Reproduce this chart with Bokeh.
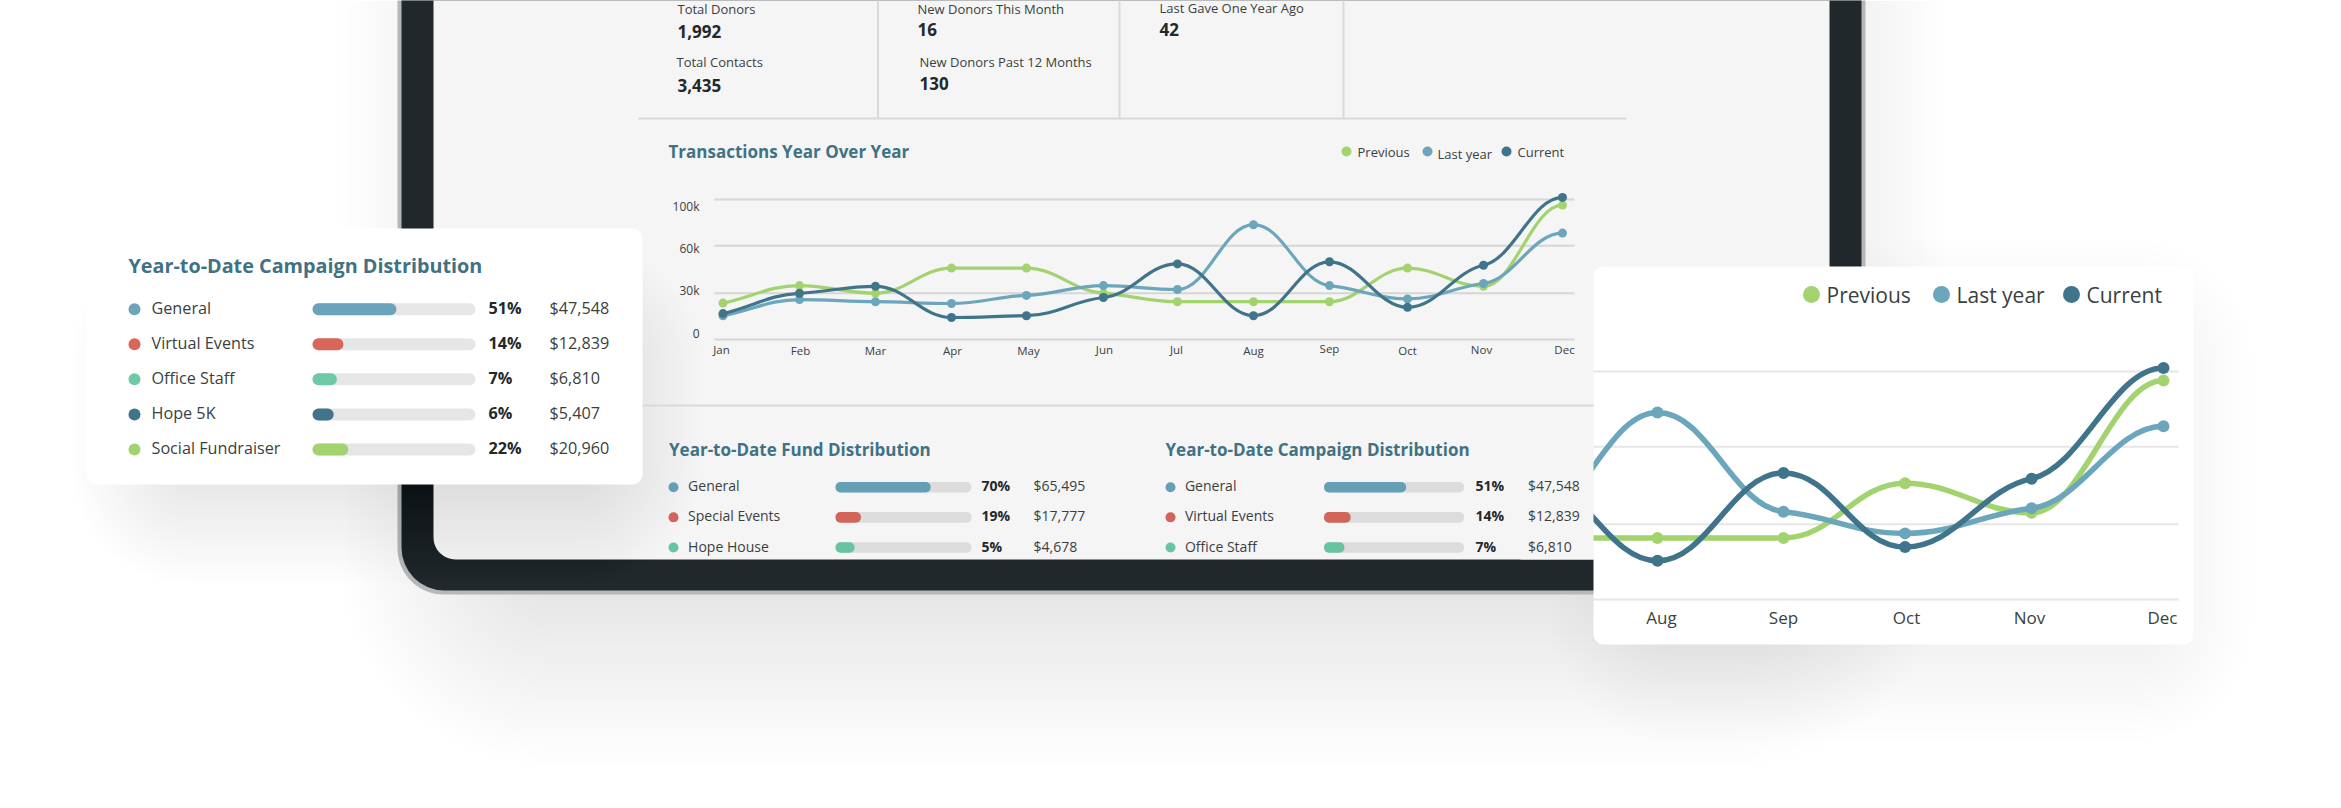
from bokeh.plotting import figure
from bokeh.models import ColumnDataSource, Range1d
from bokeh.core.properties import value
from bokeh.embed import file_html
from bokeh.resources import INLINE
import numpy as np

# ---------- data ----------
months = ["Jan", "Feb", "Mar", "Apr", "May", "Jun", "Jul", "Aug", "Sep", "Oct", "Nov", "Dec"]
previous = [26, 38.5, 33, 51, 51, 33, 27, 27, 27, 51, 38, 96]
last_year = [17, 28.5, 27, 25.7, 31.5, 38.5, 35.7, 82, 38.5, 29, 40, 76]
current = [18.5, 33, 38, 15.7, 17, 30, 54, 17, 55.5, 23, 53, 101.5]
tick_labels = ["100k", "60k", "30k", "0"]
tick_values = [100, 67, 33, 0]
legend_labels = ["Previous", "Last year", "Current"]

kpi_names = ["Total Donors", "Total Contacts", "New Donors This Month", "New Donors Past 12 Months", "Last Gave One Year Ago"]
kpi_values = ["1,992", "3,435", "16", "130", "42"]

campaign_names = ["General", "Virtual Events", "Office Staff", "Hope 5K", "Social Fundraiser"]
campaign_pct = ["51%", "14%", "7%", "6%", "22%"]
campaign_amt = ["$47,548", "$12,839", "$6,810", "$5,407", "$20,960"]
campaign_fill = [51.5, 19, 15, 13, 22]

fund_names = ["General", "Special Events", "Hope House"]
fund_pct = ["70%", "19%", "5%"]
fund_amt = ["$65,495", "$17,777", "$4,678"]
fund_fill = [70, 18.7, 14]
mini_campaign_fill = [58.6, 19, 14.6]

# category positions on each month axis (the two charts space their months slightly unevenly)
main_pos = [0, 1.002, 1.998, 2.994, 3.976, 4.985, 5.955, 6.951, 7.947, 8.969, 9.965, 11]
inset_pos = [0, 1, 2, 3, 4, 5, 6, 7, 7.996, 8.957, 9.957, 11]

# ---------- styling ----------
FONT = value("Open Sans")
TEAL = "#3f7284"
INK = "#3a3f41"
BOLD = "#23282a"
C_PREV, C_LAST, C_CURR = "#a3d36f", "#6ba6bc", "#40748a"
ROW_COLORS = ["#6ba3ba", "#d9665b", "#6ecaa6", "#40748a", "#a3d36f"]
FUND_COLORS = ["#659fb6", "#d2645a", "#68c3a0"]
SCREEN = "#f5f5f5"
BEZEL = "#20282b"

L, R, T, B = 0, 2341, 0, 808
p = figure(width=R - L, height=B - T, output_backend="svg", toolbar_location=None,
           x_range=Range1d(L, R), y_range=Range1d(B, T), x_axis_type=None, y_axis_type=None,
           min_border=0, outline_line_color=None, background_fill_color="white", border_fill_color="white")
p.grid.visible = False


def xscale(name, v0, px0, v1, px1):
    k = (v1 - v0) / (px1 - px0)
    p.extra_x_ranges[name] = Range1d(v0 + (L - px0) * k, v0 + (R - px0) * k)


def yscale(name, v0, px0, v1, px1):
    k = (v1 - v0) / (px1 - px0)
    p.extra_y_ranges[name] = Range1d(v0 + (B - px0) * k, v0 + (T - px0) * k)


def box(l, r, t, b, color, alpha=1.0, radius=0):
    p.quad(left=l, right=r, top=t, bottom=b, fill_color=color, fill_alpha=alpha, line_color=None, border_radius=int(radius))


def glow(l, r, t, b, spread, levels, radius=20):
    # soft shadow: stacked neutral layers, each darkening the page by a very small step
    for i in range(levels):
        e = spread * (1 - i / levels)
        box(l - e, r + e, t - e, b + e, "#000000", 0.004, radius + e)


def label(x, y, s, size, color=INK, bold=False, align="left", **kw):
    p.text(x=[x], y=[y], text=[s], text_font=FONT, text_font_size=f"{size}px", text_color=color,
           text_font_style="bold" if bold else "normal", text_align=align, text_baseline="middle", **kw)


def curve_source(values, pos):
    y = np.array(values, dtype=float)
    x = np.array(pos, dtype=float)
    s = np.diff(y)
    m = np.zeros_like(y)
    for i in range(1, len(y) - 1):
        a, b = s[i - 1], s[i]
        m[i] = 0.3 * (np.sign(a) + np.sign(b)) * min(abs(a), abs(b), 0.25 * abs(a + b))
    m[0] = 0.9 * s[0]
    c = 0.4
    return ColumnDataSource(dict(x0=x[:-1], y0=y[:-1], x1=x[1:], y1=y[1:],
                                 cx0=x[:-1] + c, cy0=y[:-1] + c * m[:-1],
                                 cx1=x[1:] - c, cy1=y[1:] - c * m[1:]))


def draw_series(values, pos, color, xr, yr, lw, size, first=0):
    src = curve_source(values, pos)
    view = {k: v[first:] for k, v in src.data.items()}
    p.bezier(x0="x0", y0="y0", x1="x1", y1="y1", cx0="cx0", cy0="cy0", cx1="cx1", cy1="cy1",
             source=ColumnDataSource(view), line_color=color, line_width=lw, line_cap="round",
             x_range_name=xr, y_range_name=yr)
    idx = list(range(first + 1 if first else 0, len(values)))
    p.scatter(x=[pos[i] for i in idx], y=[values[i] for i in idx], size=size, fill_color=color, line_color=None,
              x_range_name=xr, y_range_name=yr)


def bar_panel(xname, yname, names, pct, amt, fill, colors, dot_x, dot_size, name_x, pct_x, amt_x,
              fs, half, track, radius, ink=INK):
    rows = list(range(len(names)))
    p.quad(left=0, right=100, top=[r - half for r in rows], bottom=[r + half for r in rows],
           fill_color=track, line_color=None, border_radius=radius, x_range_name=xname, y_range_name=yname)
    p.quad(left=0, right=fill, top=[r - half for r in rows], bottom=[r + half for r in rows],
           fill_color=colors[:len(rows)], line_color=None, border_radius=radius, x_range_name=xname, y_range_name=yname)
    common = dict(y=rows, y_offset=-1.5, text_font=FONT, text_font_size=f"{fs}px", text_baseline="middle", y_range_name=yname)
    p.scatter(x=[dot_x] * len(rows), y=rows, size=dot_size, fill_color=colors[:len(rows)], line_color=None, y_range_name=yname)
    p.text(x=[name_x] * len(rows), text=names, text_color=ink, **common)
    p.text(x=[pct_x] * len(rows), text=pct, text_color=BOLD, text_font_style="bold", **common)
    p.text(x=[amt_x] * len(rows), text=amt, text_color=ink, **common)


# ---------- page shadows ----------
glow(510, 1775, -60, 594, 170, 24, radius=40)
glow(1650, 2150, 340, 640, 100, 13, radius=20)

# ---------- tablet ----------
box(397, 1865, -100, 594, "#b5b7b8", radius=46)
box(401, 1861, -100, 590, BEZEL, radius=43)
box(433, 1829, -100, 559, SCREEN, radius=22)

# shadow of the floating campaign card falls over the tablet
glow(170, 600, 340, 484, 100, 22, radius=20)

# ---------- inset chart card (clipped on its left by the tablet mask drawn next) ----------
box(1593, 2193, 266, 644, "white", radius=10)
xscale("ix", 7, 1657, 11, 2163)
yscale("iy", 0, 599, 100, 371)
p.segment(x0=1593, x1=2178, y0=tick_values, y1=tick_values, line_color="#e6e6e6", line_width=2, y_range_name="iy")
draw_series(previous, inset_pos, C_PREV, "ix", "iy", 5.5, 12, first=6)
draw_series(last_year, inset_pos, C_LAST, "ix", "iy", 5.5, 12, first=6)
draw_series(current, inset_pos, C_CURR, "ix", "iy", 5.5, 12, first=6)
p.text(x=inset_pos[7:], y=[618] * 5, y_offset=-1, text=months[7:], x_offset=[4, 0, 1.5, -2, -1], text_font=FONT, text_font_size="17px",
       text_color=INK, text_align="center", text_baseline="middle", x_range_name="ix")
box(2178, 2192, 600, 640, "white")
p.scatter(x=[1811, 1941, 2071], y=[294, 294, 294], size=17, fill_color=[C_PREV, C_LAST, C_CURR], line_color=None)
p.text(x=[1826, 1956, 2086], y=[297, 297, 297], y_offset=-2.5, text=legend_labels, text_font=FONT, text_font_size="21px",
       text_color=INK, text_baseline="middle")

# mask: tablet screen in front of what runs past the card's left edge
box(1520, 1593, 400, 559, SCREEN)

# ---------- KPI block ----------
p.segment(x0=[877.5, 1119, 1343], x1=[877.5, 1119, 1343], y0=-5, y1=118, line_color="#d9d9d9", line_width=2)
p.segment(x0=[638], x1=[1626], y0=[118], y1=[118], line_color="#d9d9d9", line_width=2)
p.segment(x0=[433], x1=[1593], y0=[405], y1=[405], line_color="#d9d9d9", line_width=2)
p.text(x=[677, 676, 917, 919, 1159], y=[10, 63, 10, 63, 9], y_offset=-1.5, text=kpi_names, text_font=FONT, text_font_size="13px",
       text_color=INK, text_baseline="middle")
p.text(x=[677, 677, 917, 919, 1159], y=[32, 86, 30, 84, 30], y_offset=-1.5, text=kpi_values, text_font=FONT, text_font_size="17px",
       text_font_style="bold", text_color=BOLD, text_baseline="middle")

# ---------- main line chart ----------
xscale("mx", 0, 722.5, 11, 1562)
yscale("my", 0, 339, 100, 199)
label(668, 151, "Transactions Year Over Year", 17, TEAL, True)
p.scatter(x=[1346, 1427, 1506], y=[151, 151, 151], size=10, fill_color=[C_PREV, C_LAST, C_CURR], line_color=None)
p.text(x=[1357, 1437, 1517], y=[151, 153, 151], text=legend_labels, text_font=FONT, text_font_size="13px",
       text_color=INK, text_baseline="middle")
p.segment(x0=714, x1=1574, y0=tick_values, y1=tick_values, line_color="#d6d6d6", line_width=2, y_range_name="my")
p.text(x=[699] * 4, y=[206, 248, 290, 333], text=tick_labels, text_font=FONT, text_font_size="12px", text_color=INK,
       text_align="right", text_baseline="middle")
draw_series(previous, main_pos, C_PREV, "mx", "my", 3.2, 9)
draw_series(last_year, main_pos, C_LAST, "mx", "my", 3.2, 9)
draw_series(current, main_pos, C_CURR, "mx", "my", 3.2, 9)
p.text(x=main_pos, y=[351, 352, 352, 352, 352, 351, 351, 352, 350, 352, 351, 351], y_offset=-2,
       x_offset=[-1.5, 1, 0, 1, 2, 1, -1, 0, 0, 0, -2, 2], text=months,
       text_font=FONT, text_font_size="11.5px", text_color=INK, text_align="center", text_baseline="middle", x_range_name="mx")

# ---------- bottom panels inside the tablet ----------
label(668.5, 449, "Year-to-Date Fund Distribution", 17, TEAL, True)
label(1165, 449, "Year-to-Date Campaign Distribution", 17, TEAL, True)
xscale("fx", 0, 835, 100, 971)
xscale("cx", 0, 1323.5, 100, 1463.7)
yscale("ry", 0, 486.7, 2, 547)
bar_panel("fx", "ry", fund_names, fund_pct, fund_amt, fund_fill, FUND_COLORS, 673, 10, 687.6, 981, 1033, 14, 0.175, "#dcdcdc", 5)
bar_panel("cx", "ry", campaign_names[:3], campaign_pct[:3], campaign_amt[:3], mini_campaign_fill, FUND_COLORS, 1170, 10, 1184.4, 1475, 1527.5, 14, 0.175, "#dcdcdc", 5)

# ---------- floating campaign card ----------
box(86, 642, 228, 484, "white", radius=10)
label(128, 265, "Year-to-Date Campaign Distribution", 19.8, TEAL, True)
xscale("kx", 0, 312, 100, 475)
yscale("ky", 0, 308.7, 4, 449)
bar_panel("kx", "ky", campaign_names, campaign_pct, campaign_amt, campaign_fill, ROW_COLORS, 134, 12, 151, 488, 549, 16.2, 0.171, "#e6e6e6", 6)

open("out.html", "w").write(file_html(p, INLINE))
